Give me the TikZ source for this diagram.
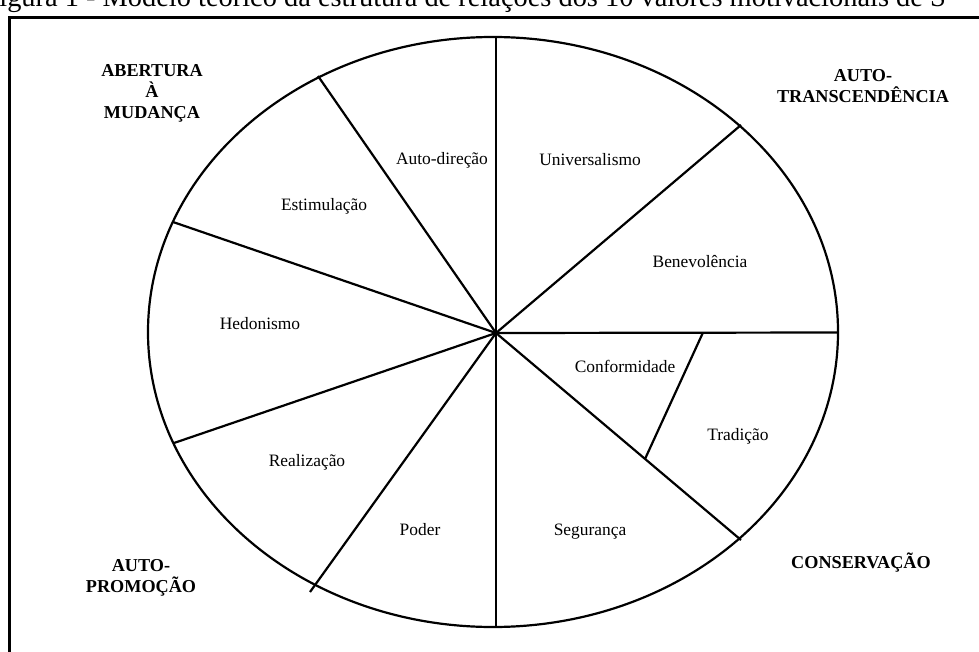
\documentclass[tikz,border=0pt]{standalone}
\usepackage{fontspec}
\setmainfont{Liberation Serif}
\begin{document}
\begin{tikzpicture}[x=0.5pt,y=-0.5pt,
  wheel/.style={line width=1.1pt,black},
  frameline/.style={line width=1.5pt,black},
  valuelabel/.style={font=\fontsize{8.7}{10}\selectfont,inner sep=1pt},
  grouplabel/.style={font=\fontsize{9.1}{10.5}\selectfont\bfseries,align=center,inner sep=1pt},
  captionlabel/.style={font=\fontsize{14.2}{16}\selectfont,inner sep=0pt}]
\useasboundingbox (0,0) rectangle (979,652);
\clip (0,0) rectangle (979,652);
% caption (cut by page edge)
\node[captionlabel,anchor=base west] (cap) at (-1,7) {igura 1 - Modelo teórico da estrutura de relações dos 10 valores motivacionais de S};
% frame
\draw[frameline] (9.5,700) -- (9.5,18) -- (1000,18);
% wheel
\coordinate (c) at (496,333);
\draw[wheel] (493,332) ellipse [x radius=172.5pt, y radius=147.5pt];
\coordinate (eTop) at (496,37);
\coordinate (eUR) at (741,125);
\coordinate (eR) at (838,332.5);
\coordinate (eLR) at (741,540);
\coordinate (eBot) at (496,627);
\coordinate (eLL) at (310,592);
\coordinate (eLlow) at (174,443);
\coordinate (eLup) at (173,222);
\coordinate (eUL) at (318,76);
\coordinate (kTop) at (703,332.5);
\coordinate (kBot) at (645,459);
\draw[wheel] (c) -- (eTop);
\draw[wheel] (c) -- (eUR);
\draw[wheel] (c) -- (eR);
\draw[wheel] (c) -- (eLR);
\draw[wheel] (c) -- (eBot);
\draw[wheel] (c) -- (eLL);
\draw[wheel] (c) -- (eLlow);
\draw[wheel] (c) -- (eLup);
\draw[wheel] (c) -- (eUL);
\draw[wheel] (kTop) -- (kBot);
% value labels
\node[valuelabel] (autodir) at (442,160) {Auto-direção};
\node[valuelabel] (univ) at (590,160) {Universalismo};
\node[valuelabel] (estim) at (324,206) {Estimulação};
\node[valuelabel] (benev) at (700,262) {Benevolência};
\node[valuelabel] (hedon) at (260,324) {Hedonismo};
\node[valuelabel] (conf) at (625,366) {Conformidade};
\node[valuelabel] (trad) at (738,436) {Tradição};
\node[valuelabel] (realiz) at (307,462) {Realização};
\node[valuelabel] (poder) at (420,530) {Poder};
\node[valuelabel] (segur) at (590,532) {Segurança};
% group labels
\node[grouplabel] (abert) at (152,93) {ABERTURA\\À\\MUDANÇA};
\node[grouplabel] (trans) at (863,86) {AUTO-\\TRANSCENDÊNCIA};
\node[grouplabel] (promo) at (141,578) {AUTO-\\PROMOÇÃO};
\node[grouplabel] (conse) at (861,563) {CONSERVAÇÃO};
\end{tikzpicture}
\end{document}
